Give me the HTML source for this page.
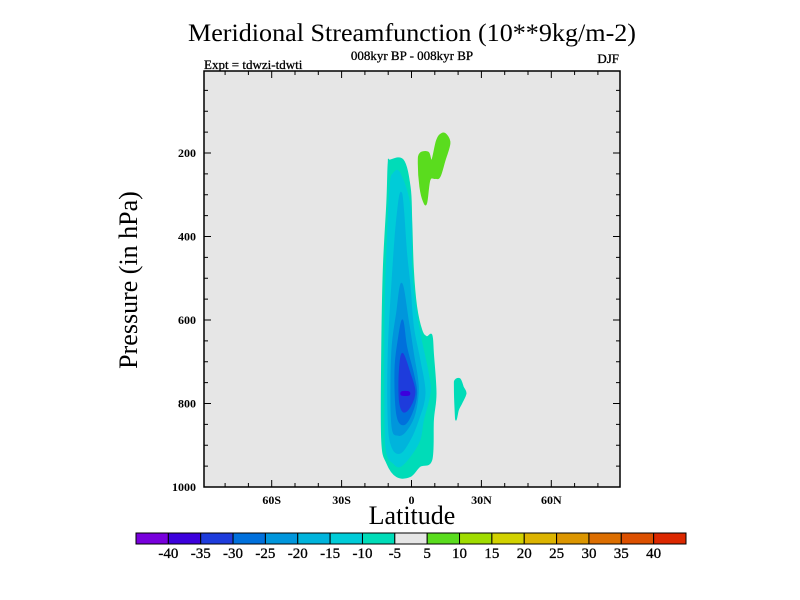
<!DOCTYPE html>
<html><head><meta charset="utf-8"><style>
html,body{margin:0;padding:0;background:#fff;}
svg{display:block;font-family:"Liberation Serif",serif;}
</style></head><body>
<svg id="chart" width="800" height="600" viewBox="0 0 800 600" xmlns="http://www.w3.org/2000/svg">
<text x="412" y="41" font-size="25" text-anchor="middle" textLength="448" lengthAdjust="spacingAndGlyphs">Meridional Streamfunction (10**9kg/m-2)</text>
<text x="412" y="60" font-size="13" text-anchor="middle" stroke="#000" stroke-width="0.3">008kyr BP - 008kyr BP</text>
<text x="204" y="69" font-size="13" stroke="#000" stroke-width="0.3">Expt = tdwzi-tdwti</text>
<text x="619" y="63" font-size="13" text-anchor="end" stroke="#000" stroke-width="0.3">DJF</text>
<rect x="204" y="71" width="416" height="416" fill="#e6e6e6"/>
<g id="contours"></g>
<g id="axes"></g>
<rect x="204" y="71" width="416" height="416" fill="none" stroke="#000" stroke-width="1.5"/>
<text transform="translate(137,280) rotate(-90)" font-size="26" text-anchor="middle">Pressure (in hPa)</text>
<text x="412" y="524" font-size="26" text-anchor="middle">Latitude</text>
<g id="colorbar"></g>
</svg>
<script>
const latTicks = [-60, -30, 0, 30, 60];
const latTickLabels = ["60S", "30S", "0", "30N", "60N"];
const presTicks = [200, 400, 600, 800, 1000];
const cbLevels = [-40, -35, -30, -25, -20, -15, -10, -5, 5, 10, 15, 20, 25, 30, 35, 40];
const cbColors = ["#7800dc","#3c00dc","#1e3cdc","#0070dc","#0096dc","#00b4dc","#00ccd8","#00dcb8","#e6e6e6","#5adc1e","#a0dc00","#d2d200","#dcb400","#dc9600","#dc6e00","#dc5000","#dc2800"];
const regionLevels = [7, 6, 5, 4, 3, 2, 1, 9, 7];
const regionShapes = [
 [[-9.2,217],[-3.5,217],[-0.6,281],[0.1,361],[0.8,480],[2.2,568],[4.4,624],[6.5,640],[8.7,636],[9.4,680],[10.5,776],[9.4,840],[8.7,935],[3.6,951],[-0.6,975],[-6.4,975],[-10.6,943],[-12.8,887],[-12.8,680],[-12.1,480],[-10.6,320],[-10,225]],
 [[-7.8,249],[-4.9,249],[-0.6,329],[0.1,480],[1.5,560],[3.6,632],[7.2,728],[7.9,776],[5.1,840],[3.6,887],[-0.6,927],[-4.9,951],[-7.8,943],[-10.6,919],[-11.4,840],[-11.4,600],[-10.6,440],[-9.2,281]],
 [[-4.2,297],[-2.1,440],[-0.6,520],[0.8,616],[3.6,696],[5.8,776],[2.9,840],[-0.6,887],[-4.9,919],[-8.5,903],[-10,840],[-10,680],[-8.5,520],[-6.4,361]],
 [[-4.2,512],[-1.4,600],[0.8,680],[2.9,760],[1.5,824],[-2.1,864],[-5.7,876],[-8.5,848],[-8.5,680],[-6.4,584]],
 [[-3.8,600],[-2.1,664],[0.8,728],[2.2,776],[0.1,824],[-3.5,851],[-6.4,824],[-7.1,720],[-5.7,648]],
 [[-3.8,680],[-0.6,728],[1.5,772],[-0.6,808],[-3.5,820],[-5.2,792],[-5.2,720]],
 [[-4.2,772],[-1.1,772],[-1.1,780],[-4.2,780]],
 [[3.6,201],[7.2,198],[8.7,217],[10.8,169],[13,153],[15.1,157],[16.5,177],[14.4,217],[12.2,257],[10.1,261],[7.9,265],[6.5,320],[5.1,316],[3.6,281],[2.9,225]],
 [[18.7,744],[20.8,741],[22.2,760],[23.4,776],[21.5,800],[20.1,816],[19.1,840],[18.7,816],[18.4,760]]
];
const NS = "http://www.w3.org/2000/svg";
const X0 = 204, X1 = 620, Y0 = 71, Y1 = 487;
function xScale(lat){ return 411.5 + lat * 2.33; }
function yScale(p){ return 487 - (1000 - p) * 0.4175; }
function mk(tag, attrs, parent){ const e = document.createElementNS(NS, tag); for (const k in attrs) e.setAttribute(k, attrs[k]); parent.appendChild(e); return e; }
function smoothPath(P){
  const n = P.length; let d = 'M' + P[0][0].toFixed(1) + ',' + P[0][1].toFixed(1);
  const t = 0.35;
  for (let i = 0; i < n; i++) {
    const p0 = P[(i - 1 + n) % n], p1 = P[i], p2 = P[(i + 1) % n], p3 = P[(i + 2) % n];
    const c1x = p1[0] + (p2[0] - p0[0]) * t / 2, c1y = p1[1] + (p2[1] - p0[1]) * t / 2;
    const c2x = p2[0] - (p3[0] - p1[0]) * t / 2, c2y = p2[1] - (p3[1] - p1[1]) * t / 2;
    d += 'C' + c1x.toFixed(1) + ',' + c1y.toFixed(1) + ' ' + c2x.toFixed(1) + ',' + c2y.toFixed(1) + ' ' + p2[0].toFixed(1) + ',' + p2[1].toFixed(1);
  }
  return d + 'Z';
}

const cg = document.getElementById('contours');
regionShapes.forEach((shape, i) => {
  const pts = shape.map(d => [xScale(d[0]), yScale(d[1])]);
  const c = cbColors[regionLevels[i]];
  const el = mk('path', {d: smoothPath(pts), fill: c, stroke: c, 'stroke-width': 1}, cg);
  
  
});

const ax = document.getElementById('axes');
for (let lat = -80; lat <= 80; lat += 10) {
  const x = xScale(lat), major = latTicks.includes(lat), L = major ? 7 : 4;
  const t1 = mk('line', {x1: x, x2: x, y1: Y1, y2: Y1 - L, stroke: '#000', 'stroke-width': 1}, ax);
  
  
  const t2 = mk('line', {x1: x, x2: x, y1: Y0, y2: Y0 + L, stroke: '#000', 'stroke-width': 1}, ax);
  
  
}
latTicks.forEach((lat, i) => {
  const t = mk('text', {x: xScale(lat), y: 504, 'font-size': 12, 'font-weight': 'bold', 'text-anchor': 'middle'}, ax);
  t.textContent = latTickLabels[i];
  
  
});
for (let p = 50; p < 1000; p += 50) {
  const y = yScale(p), major = presTicks.includes(p), L = major ? 7 : 4;
  const t1 = mk('line', {x1: X0, x2: X0 + L, y1: y, y2: y, stroke: '#000', 'stroke-width': 1}, ax);
  
  
  const t2 = mk('line', {x1: X1, x2: X1 - L, y1: y, y2: y, stroke: '#000', 'stroke-width': 1}, ax);
  
  
}
presTicks.forEach(p => {
  const t = mk('text', {x: 196, y: yScale(p) + 4, 'font-size': 12, 'font-weight': 'bold', 'text-anchor': 'end'}, ax);
  t.textContent = String(p);
  
  
});

const cb = document.getElementById('colorbar');
const cbX = 136, cbW = 550, cbY = 533, cbH = 11, bw = cbW / cbColors.length;
cbColors.forEach((c, i) => {
  const r = mk('rect', {x: cbX + i * bw, y: cbY, width: bw, height: cbH, fill: c, stroke: '#000', 'stroke-width': 1}, cb);
  
  
});
cbLevels.forEach((v, i) => {
  const t = mk('text', {x: cbX + (i + 1) * bw, y: 558, 'font-size': 15, 'text-anchor': 'middle', stroke: '#000', 'stroke-width': 0.3}, cb);
  t.textContent = String(v);
  
  
});
</script>
</body></html>
